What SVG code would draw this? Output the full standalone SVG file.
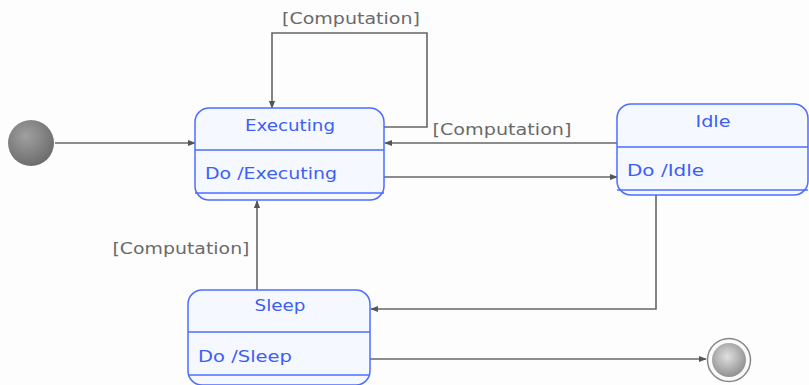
<svg xmlns="http://www.w3.org/2000/svg" width="809" height="385" viewBox="0 0 809 385">
<defs>
<style>
.st{fill:#f5f9ff;stroke:#4d6dff;stroke-width:1.5}
.sep{stroke:#4d6dff;stroke-width:1.5;fill:none}
.t{font-family:"DejaVu Sans",Verdana,sans-serif;font-size:15px;fill:#3d5ef5}
.lbl{font-family:"DejaVu Sans",Verdana,sans-serif;font-size:15px;fill:#6a6a6a}
.c{fill:none;stroke:#666;stroke-width:1.6;marker-end:url(#ah)}
</style>
<marker id="ah" viewBox="0 0 10 10" refX="9" refY="5" markerWidth="8" markerHeight="8" orient="auto" markerUnits="userSpaceOnUse"><path d="M0,1 L10,5 L0,9 z" fill="#555"/></marker>
<radialGradient id="gi" cx="0.4" cy="0.35" r="0.7"><stop offset="0" stop-color="#a0a0a0"/><stop offset="1" stop-color="#6a6a6a"/></radialGradient>
<radialGradient id="gf" cx="0.45" cy="0.4" r="0.65"><stop offset="0" stop-color="#e0e0e0"/><stop offset="1" stop-color="#8a8a8a"/></radialGradient>
</defs>
<rect width="809" height="385" fill="#fdfdfd"/>
<g id="connectors">
<path class="c" d="M55,143 H195"/>
<path class="c" d="M384,127 H427 V33 H272 V108"/>
<path class="c" d="M617,143 H385"/>
<path class="c" d="M384,177 H617"/>
<path class="c" d="M656,195 V309 H371"/>
<path class="c" d="M257,290 V201"/>
<path class="c" d="M370,359 H706"/>
<text class="lbl" x="351" y="24" text-anchor="middle" textLength="138" lengthAdjust="spacingAndGlyphs">[Computation]</text>
<text class="lbl" x="502" y="135" text-anchor="middle" textLength="139" lengthAdjust="spacingAndGlyphs">[Computation]</text>
<text class="lbl" x="181" y="254" text-anchor="middle" textLength="137" lengthAdjust="spacingAndGlyphs">[Computation]</text>
</g>
<g id="initial"><circle cx="31" cy="143" r="23" fill="url(#gi)"/></g>
<g id="executing">
<rect class="st" x="195" y="108" width="189" height="92" rx="14"/>
<path class="sep" d="M195,150 H384 M195,193 H384"/>
<text class="t" x="290" y="131" text-anchor="middle" textLength="90" lengthAdjust="spacingAndGlyphs">Executing</text>
<text class="t" x="205" y="179" textLength="132" lengthAdjust="spacingAndGlyphs">Do /Executing</text>
</g>
<g id="idle">
<rect class="st" x="617" y="104" width="191" height="91" rx="14"/>
<path class="sep" d="M617,147 H808 M617,190 H808"/>
<text class="t" x="713" y="127" text-anchor="middle" textLength="35" lengthAdjust="spacingAndGlyphs">Idle</text>
<text class="t" x="627" y="176" textLength="77" lengthAdjust="spacingAndGlyphs">Do /Idle</text>
</g>
<g id="sleep">
<rect class="st" x="188" y="290" width="182" height="95" rx="14"/>
<path class="sep" d="M188,332 H370 M188,375 H370"/>
<text class="t" x="280" y="311" text-anchor="middle" textLength="51" lengthAdjust="spacingAndGlyphs">Sleep</text>
<text class="t" x="198" y="362" textLength="94" lengthAdjust="spacingAndGlyphs">Do /Sleep</text>
</g>
<g id="final">
<circle cx="729" cy="360" r="21.5" fill="#fafafa" stroke="#888" stroke-width="1.5"/>
<circle cx="729" cy="360" r="17" fill="url(#gf)"/>
</g>
</svg>
